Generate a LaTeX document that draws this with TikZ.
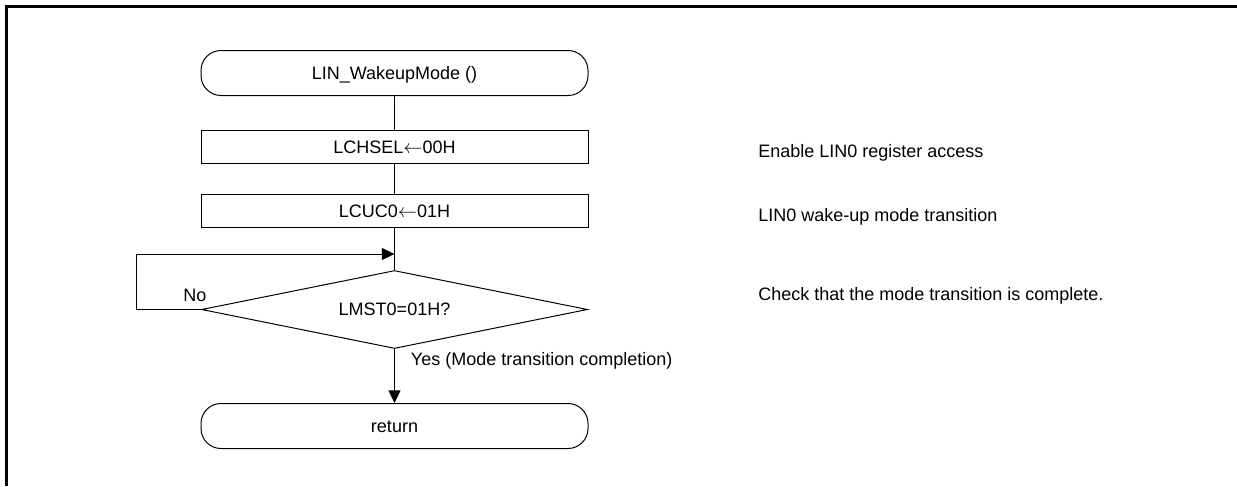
\documentclass[tikz,border=0pt]{standalone}
\usepackage{fontspec}
\setmainfont{Liberation Sans}
\usetikzlibrary{shapes.geometric,arrows.meta}
\tikzset{
  txt/.style={font=\fontsize{13.5pt}{16pt}\selectfont, text height=9.67pt, text depth=0pt, inner sep=0pt},
  term/.style={txt, draw, line width=0.75pt, rounded corners=15pt, minimum width=290.25pt, minimum height=33.75pt},
  proc/.style={txt, draw, line width=0.75pt, minimum width=290.25pt, minimum height=24.4pt},
  dec/.style={txt, draw, line width=0.75pt, diamond, aspect=4.95, minimum width=289.5pt, minimum height=58.5pt},
  conn/.style={line width=0.75pt},
  arr/.style={conn, -{Triangle[length=9.5pt, width=9pt]}},
  frame/.style={line width=2pt}
}
\begin{document}
\begin{tikzpicture}[x=0.75pt, y=-0.75pt]
\useasboundingbox (0,0) rectangle (1237,486);
\draw[frame] (1237,6.3) -- (6.3,6.3) -- (6.3,486);
\node[term] (start) at (394.5,73) {LIN\_WakeupMode ()};
\node[proc] (p1) at (394.5,147) {LCHSEL$\leftarrow$00H};
\node[proc] (p2) at (394.5,211.2) {LCUC0$\leftarrow$01H};
\node[dec] (d) at (394.5,309.5) {LMST0=01H?};
\node[term] (ret) at (394.5,426) {return};
\coordinate (j) at (394.5,254);
\coordinate (l1) at (136.7,309.5);
\coordinate (l2) at (136.7,254);
\draw[conn] (start) -- (p1);
\draw[conn] (p1) -- (p2);
\draw[conn] (p2) -- (d);
\draw[arr] (d.west) -- (l1) -- (l2) -- (j);
\draw[arr] (d) -- (ret);
\node[txt] (no) at (195,295) {No};
\node[txt, anchor=west] (yes) at (410.7,359) {Yes (Mode transition completion)};
\node[txt, anchor=west] (c1) at (758,150.7) {Enable LIN0 register access};
\node[txt, anchor=west] (c2) at (758,215) {LIN0 wake-up mode transition};
\node[txt, anchor=west] (c3) at (758,294.5) {Check that the mode transition is complete.};
\end{tikzpicture}
\end{document}
